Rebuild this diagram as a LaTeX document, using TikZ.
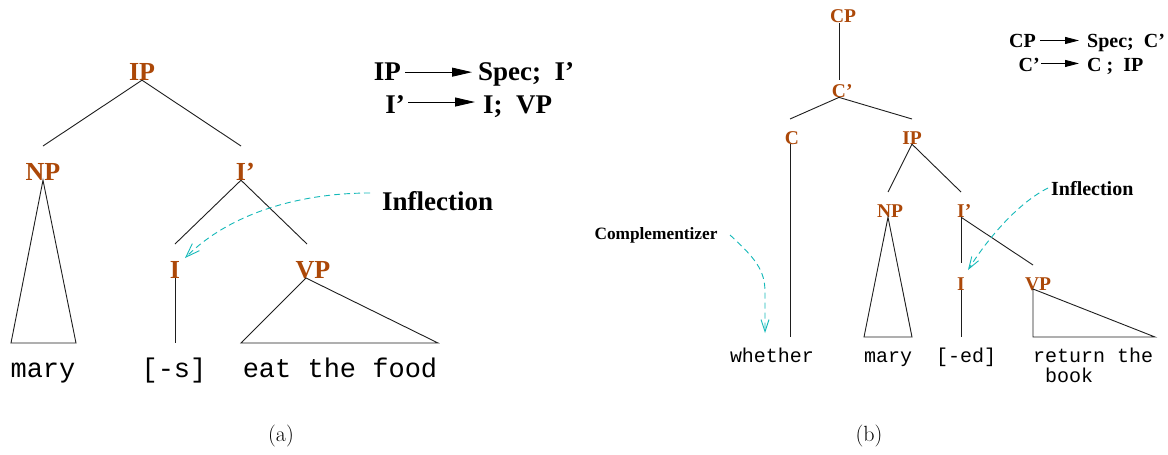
\documentclass[tikz,border=0pt]{standalone}
\usepackage{fontspec}
\newfontfamily\tms[Ligatures=TeX]{Liberation Serif}
\setmonofont{Liberation Mono}
\usetikzlibrary{arrows.meta}
\definecolor{brn}{RGB}{172,72,8}
\definecolor{cyn}{RGB}{20,185,185}
\definecolor{edgecol}{RGB}{30,30,30}
\tikzset{
  labA/.style={font=\tms\bfseries\fontsize{26}{30}\selectfont, text=brn, inner sep=0pt, anchor=base},
  labB/.style={font=\tms\bfseries\fontsize{19.5}{22}\selectfont, text=brn, inner sep=0pt, anchor=base},
  wordA/.style={font=\ttfamily\fontsize{27}{30}\selectfont, inner sep=0pt, anchor=base},
  wordB/.style={font=\ttfamily\fontsize{20}{22}\selectfont, inner sep=0pt, anchor=base},
  txtA/.style={font=\tms\bfseries\fontsize{27}{30}\selectfont, inner sep=0pt},
  txtB/.style={font=\tms\bfseries\fontsize{20}{22}\selectfont, inner sep=0pt},
  txtC/.style={font=\tms\bfseries\fontsize{17.3}{20}\selectfont, inner sep=0pt},
  capt/.style={font=\fontsize{22}{24}\selectfont, inner sep=0pt, anchor=base},
  edge/.style={draw=edgecol, line width=0.9pt},
  rulearrowA/.style={draw=black, line width=0.9pt, -{Triangle[length=20pt,width=9pt]}},
  rulearrowB/.style={draw=black, line width=0.9pt, -{Triangle[length=14pt,width=7pt]}},
  cyanarrowA/.style={draw=cyn, line width=0.9pt, dash pattern=on 6pt off 4pt, -{Straight Barb[length=14pt,width=10pt]}},
  cyanarrowB/.style={draw=cyn, line width=0.9pt, dash pattern=on 6pt off 4pt, -{Straight Barb[length=12pt,width=8pt]}},
}
\begin{document}
\begin{tikzpicture}[x=1pt,y=-1pt]
\useasboundingbox[fill=white] (0,0) rectangle (1168,455);

% ---------------- (a) ----------------
\node[labA] (IPa) at (142,80) {IP};
\node[labA] (NPa) at (43,180) {NP};
\node[labA] (Ipa) at (241,180) {I\rlap{’}};
\node[labA] (Ia) at (175,278) {I};
\node[labA] (VPa) at (313,278) {VP};

\coordinate (NPa-top) at (43,146);
\coordinate (Ipa-top) at (241,146);
\coordinate (Ia-top) at (175,244);
\coordinate (VPa-top) at (307,244);
\coordinate (VPa-apex) at (306,278);
\coordinate (NPa-l) at (11,343);
\coordinate (NPa-r) at (76,343);
\coordinate (Ia-bot) at (175,343);
\coordinate (VPa-l) at (241,343);
\coordinate (VPa-r) at (438,343);

\draw[edge] (IPa.south) -- (NPa-top);
\draw[edge] (IPa.south) -- (Ipa-top);
\draw[edge] (NPa.south) -- (NPa-l) -- (NPa-r) -- cycle;
\draw[edge] (Ipa.south) -- (Ia-top);
\draw[edge] (Ipa.south) -- (VPa-top);
\draw[edge] (Ia.south) -- (Ia-bot);
\draw[edge] (VPa-apex) -- (VPa-l) -- (VPa-r) -- cycle;

\node[wordA] (wa1) at (43,377) {mary};
\node[wordA] (wa2) at (174,377) {[-s]};
\node[wordA] (wa3) at (340,377) {eat the food};

\node[txtA, anchor=base west] (infa) at (382,210) {Inflection};
\coordinate (infa-s) at (370,193);
\coordinate (Ia-in) at (185,258);
\draw[cyanarrowA] (infa-s) .. controls (300,193) and (230,213) .. (Ia-in);

\node[txtA, anchor=base east] (r1l) at (401,80) {IP};
\node[txtA, anchor=base west] (r1r) at (478,80) {Spec;\ \ I’};
\node[txtA, anchor=base east] (r2l) at (405,113) {I’};
\node[txtA, anchor=base west] (r2r) at (483,113) {I;\ \ VP};
\draw[rulearrowA] ([xshift=4pt,yshift=-1pt]r1l.east) -- ([xshift=-6pt,yshift=-1pt]r1l.east -| r1r.west);
\draw[rulearrowA] ([xshift=3pt,yshift=2pt]r2l.east) -- ([xshift=-8pt,yshift=2pt]r2l.east -| r2r.west);

\node[capt] (capa) at (281,441) {(a)};

% ---------------- (b) ----------------
\node[labB] (CPb) at (843,23) {CP};
\node[labB] (Cpb) at (839,97) {C\rlap{’}};
\node[labB] (Cb) at (792,144) {C};
\node[labB] (IPb) at (912,144) {IP};
\node[labB] (NPb) at (890,217) {NP};
\node[labB] (Ipb) at (961,217) {I\rlap{’}};
\node[labB] (Ib) at (961,290) {I};
\node[labB] (VPb) at (1038,290) {VP};

\coordinate (Cpb-top) at (839,80);
\coordinate (Cb-top) at (790,119);
\coordinate (IPb-top) at (912,119);
\coordinate (Cb-bot) at (790,337);
\coordinate (NPb-top) at (888,192);
\coordinate (Ipb-top) at (961,192);
\coordinate (NPb-l) at (864,337);
\coordinate (NPb-r) at (912,337);
\coordinate (Ib-top) at (961,263);
\coordinate (VPb-top) at (1033,265);
\coordinate (Ib-bot) at (961,337);
\coordinate (VPb-apex) at (1033,289);
\coordinate (VPb-bot) at (1033,337);
\coordinate (VPb-r) at (1155,337);

\draw[edge] (CPb.south -| Cpb.south) -- (Cpb-top);
\draw[edge] (Cpb.south) -- (Cb-top);
\draw[edge] (Cpb.south) -- (IPb-top);
\draw[edge] (Cb.south -| Cb-bot) -- (Cb-bot);
\draw[edge] (IPb.south) -- (NPb-top);
\draw[edge] (IPb.south) -- (Ipb-top);
\draw[edge] (NPb.south -| NPb-top) -- (NPb-l) -- (NPb-r) -- cycle;
\draw[edge] (Ipb.south) -- (Ib-top);
\draw[edge] (Ipb.south) -- (VPb-top);
\draw[edge] (Ib.south) -- (Ib-bot);
\draw[edge] (VPb-apex) -- (VPb-bot) -- (VPb-r) -- cycle;

\node[wordB] (wb1) at (772,362) {whether};
\node[wordB] (wb2) at (888,362) {mary};
\node[wordB] (wb3) at (966,362) {[-ed]};
\node[wordB, anchor=base west] (wb4) at (1033,362) {return the};
\node[wordB, anchor=base west] (wb5) at (1045,382) {book};

\node[txtC, anchor=base] (comp) at (656,239) {Complementizer};
\coordinate (comp-s) at (730,235);
\coordinate (comp-e) at (765,333);
\draw[cyanarrowB] (comp-s) .. controls (755,258) and (765,270) .. (765,292) -- (comp-e);

\node[txtB, anchor=base west] (infb) at (1051,195) {Inflection};
\coordinate (infb-s) at (1048,188);
\coordinate (Ib-in) at (968,270);
\draw[cyanarrowB] (infb-s) .. controls (1020,202) and (990,235) .. (Ib-in);

\node[txtB, anchor=base east] (r3l) at (1036,47) {CP};
\node[txtB, anchor=base west] (r3r) at (1087,47) {Spec;\ \ C’};
\node[txtB, anchor=base east] (r4l) at (1040,71) {C’};
\node[txtB, anchor=base west] (r4r) at (1087,71) {C ;\ \ IP};
\draw[rulearrowB] ([xshift=4pt]r3l.east) -- ([xshift=-8pt]r3l.east -| r3r.west);
\draw[rulearrowB] ([xshift=1pt,yshift=1pt]r4l.east) -- ([xshift=-8pt,yshift=1pt]r4l.east -| r4r.west);

\node[capt] (capb) at (869,441) {(b)};
\end{tikzpicture}
\end{document}
